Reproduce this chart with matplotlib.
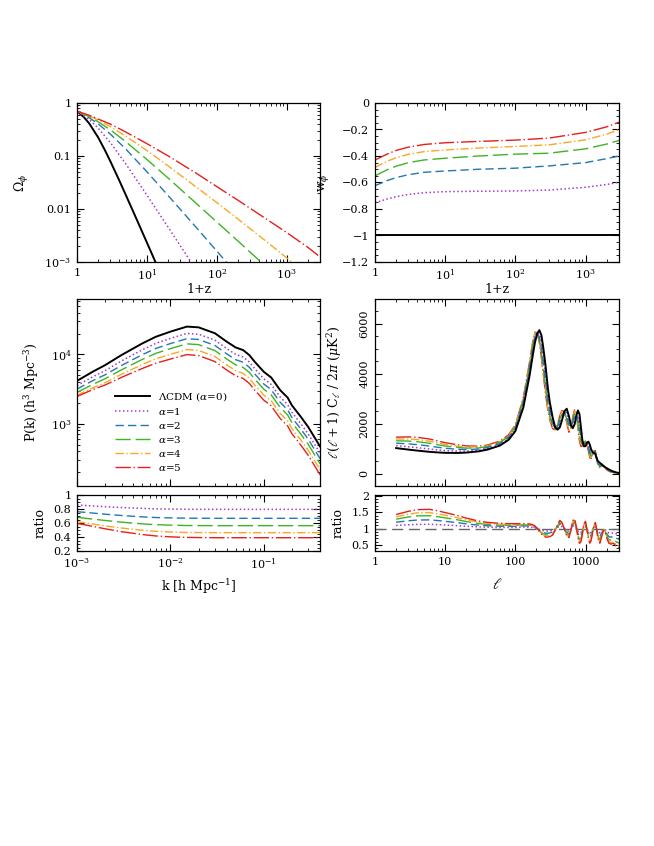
import matplotlib
matplotlib.use('Agg')
import matplotlib.pyplot as plt
from matplotlib.ticker import FixedLocator, MultipleLocator, LogLocator, NullFormatter

plt.rcParams['font.family'] = ['DejaVu Serif']
plt.rcParams['mathtext.fontset'] = 'dejavuserif'

labels = [r'$\Lambda$CDM ($\alpha$=0)', r'$\alpha$=1', r'$\alpha$=2', r'$\alpha$=3', r'$\alpha$=4', r'$\alpha$=5']

# ---- Omega_phi vs 1+z ----
zgrid = [1, 1.5, 2, 3, 5, 10, 20, 50, 100, 200, 500, 1000, 2000, 3000]
z_lcdm = [1, 1.25, 1.5, 2, 2.5, 3, 4, 5, 7, 10, 15]
om_lcdm = [0.70, 0.544, 0.409, 0.226, 0.130, 0.0795, 0.0352, 0.0183, 0.00676, 0.00233, 0.00069]
om_a1 = [0.70, 0.487, 0.338, 0.179, 0.0708, 0.0183, 0.0046, 0.00073, 0.00018]
om_a2 = [0.70, 0.526, 0.405, 0.259, 0.135, 0.0505, 0.0181, 0.0046, 0.00161, 0.00056]
om_a3 = [0.70, 0.550, 0.444, 0.312, 0.186, 0.086, 0.0386, 0.0130, 0.0057, 0.0025, 0.00083, 0.00035]
om_a4 = [0.70, 0.570, 0.478, 0.358, 0.236, 0.127, 0.0655, 0.0264, 0.0132, 0.0065, 0.0025, 0.0012, 0.00057, 0.00037]
om_a5 = [0.70, 0.585, 0.50, 0.40, 0.283, 0.171, 0.101, 0.048, 0.0265, 0.0147, 0.0066, 0.0036, 0.0019, 0.00125]

# ---- w_phi vs 1+z ----
wz = [1, 1.5, 2, 3, 5, 10, 30, 100, 300, 1000, 2000, 3000]
w_lcdm = [-1.0] * 12
w_a1 = [-0.753, -0.724, -0.707, -0.690, -0.677, -0.669, -0.666, -0.664, -0.657, -0.636, -0.615, -0.598]
w_a2 = [-0.624, -0.585, -0.563, -0.541, -0.523, -0.513, -0.500, -0.492, -0.475, -0.450, -0.420, -0.400]
w_a3 = [-0.550, -0.503, -0.477, -0.450, -0.430, -0.417, -0.400, -0.386, -0.379, -0.346, -0.310, -0.283]
w_a4 = [-0.485, -0.439, -0.413, -0.387, -0.367, -0.354, -0.340, -0.328, -0.316, -0.278, -0.235, -0.202]
w_a5 = [-0.430, -0.385, -0.358, -0.333, -0.313, -0.300, -0.290, -0.280, -0.265, -0.222, -0.180, -0.145]

# ---- P(k) ----
kgrid = [0.001, 0.0015, 0.002, 0.003, 0.005, 0.007, 0.01, 0.015, 0.02, 0.03, 0.04, 0.05,
         0.06, 0.07, 0.08, 0.1, 0.12, 0.15, 0.18, 0.2, 0.25, 0.3, 0.4]
pk_lcdm = [4150, 5700, 7000, 9800, 14400, 18000, 21300, 25200, 24600, 20200, 15300, 12600,
           11550, 9780, 7830, 5610, 4640, 3040, 2380, 1840, 1250, 890, 470]
pkr_a1 = [0.857, 0.843, 0.833, 0.821, 0.809, 0.802, 0.799, 0.796, 0.795, 0.795, 0.795, 0.795,
          0.795, 0.795, 0.795, 0.795, 0.795, 0.795, 0.795, 0.795, 0.795, 0.795, 0.795]
pkr_a2 = [0.762, 0.741, 0.726, 0.707, 0.688, 0.678, 0.673, 0.669, 0.668, 0.667, 0.667, 0.667,
          0.667, 0.667, 0.667, 0.667, 0.667, 0.667, 0.667, 0.667, 0.667, 0.667, 0.667]
pkr_a3 = [0.681, 0.655, 0.636, 0.612, 0.588, 0.576, 0.569, 0.564, 0.563, 0.562, 0.562, 0.562,
          0.562, 0.562, 0.562, 0.562, 0.562, 0.562, 0.562, 0.562, 0.562, 0.562, 0.562]
pkr_a4 = [0.619, 0.584, 0.559, 0.528, 0.497, 0.481, 0.471, 0.465, 0.464, 0.462, 0.462, 0.462,
          0.462, 0.462, 0.462, 0.462, 0.462, 0.462, 0.462, 0.462, 0.462, 0.462, 0.462]
pkr_a5 = [0.595, 0.550, 0.517, 0.476, 0.435, 0.415, 0.402, 0.394, 0.392, 0.390, 0.390, 0.390,
          0.390, 0.390, 0.390, 0.390, 0.390, 0.390, 0.390, 0.390, 0.390, 0.390, 0.390]

# ---- C_l ----
ell = [2, 3, 4, 6, 8, 10, 15, 20, 30, 40, 60, 80, 100, 130, 160, 175, 190, 205, 220, 235, 250,
       270, 290, 310, 340, 370, 400, 430, 460, 500, 540, 580, 620, 660, 700, 740, 780, 820, 860,
       900, 950, 1000, 1050, 1100, 1150, 1200, 1260, 1320, 1380, 1440, 1500, 1600, 1700, 1800,
       1900, 2000, 2150, 2300, 2500, 2700, 3000]
cl_lcdm = [1020, 960, 920, 870, 845, 830, 825, 840, 890, 960, 1120, 1350, 1700, 2650, 3950, 4650,
           5250, 5620, 5750, 5550, 5050, 4300, 3450, 2850, 2250, 1850, 1760, 1850, 2120, 2500, 2600,
           2300, 1930, 1820, 1980, 2330, 2530, 2380, 1850, 1350, 1090, 1100, 1230, 1280, 1160, 980,
           850, 830, 780, 620, 500, 430, 370, 310, 255, 215, 165, 120, 80, 50, 18]
clr_a1 = [1.095, 1.117, 1.128, 1.130, 1.119, 1.108, 1.088, 1.070, 1.051, 1.042, 1.035, 1.033, 1.033,
          1.045, 1.042, 1.036, 1.024, 1.002, 0.974, 0.951, 0.936, 0.921, 0.922, 0.925, 0.940, 0.985,
          1.036, 1.075, 1.057, 0.997, 0.934, 0.916, 0.985, 1.075, 1.090, 1.015, 0.916, 0.864, 0.877,
          0.946, 1.045, 1.066, 0.985, 0.910, 0.865, 0.886, 0.964, 1.030, 1.054, 0.994, 0.910, 0.865,
          0.925, 0.985, 0.976, 0.916, 0.865, 0.856, 0.865, 0.841, 0.820]
clr_a2 = [1.194, 1.239, 1.261, 1.266, 1.243, 1.221, 1.180, 1.144, 1.104, 1.086, 1.072, 1.068, 1.068,
          1.083, 1.077, 1.066, 1.044, 1.003, 0.952, 0.910, 0.883, 0.854, 0.857, 0.863, 0.890, 0.973,
          1.066, 1.138, 1.105, 0.995, 0.879, 0.846, 0.973, 1.138, 1.165, 1.028, 0.846, 0.750, 0.775,
          0.901, 1.083, 1.121, 0.973, 0.835, 0.753, 0.791, 0.934, 1.055, 1.099, 0.989, 0.835, 0.753,
          0.863, 0.973, 0.956, 0.846, 0.753, 0.736, 0.753, 0.709, 0.670]
clr_a3 = [1.288, 1.355, 1.389, 1.395, 1.362, 1.328, 1.268, 1.214, 1.154, 1.127, 1.107, 1.100, 1.100,
          1.113, 1.105, 1.090, 1.060, 1.004, 0.934, 0.878, 0.841, 0.801, 0.805, 0.813, 0.850, 0.963,
          1.090, 1.188, 1.143, 0.993, 0.835, 0.790, 0.963, 1.188, 1.225, 1.038, 0.790, 0.659, 0.693,
          0.865, 1.113, 1.165, 0.963, 0.775, 0.663, 0.715, 0.910, 1.075, 1.135, 0.985, 0.775, 0.663,
          0.813, 0.963, 0.940, 0.790, 0.663, 0.640, 0.663, 0.603, 0.550]
clr_a4 = [1.357, 1.440, 1.481, 1.490, 1.448, 1.407, 1.332, 1.266, 1.191, 1.158, 1.133, 1.125, 1.125,
          1.135, 1.126, 1.108, 1.072, 1.005, 0.921, 0.853, 0.809, 0.762, 0.766, 0.775, 0.820, 0.955,
          1.108, 1.225, 1.171, 0.991, 0.802, 0.748, 0.955, 1.225, 1.270, 1.045, 0.748, 0.590, 0.631,
          0.838, 1.135, 1.198, 0.955, 0.730, 0.595, 0.658, 0.892, 1.090, 1.162, 0.982, 0.730, 0.595,
          0.775, 0.955, 0.928, 0.748, 0.595, 0.568, 0.595, 0.523, 0.460]
clr_a5 = [1.43, 1.53, 1.58, 1.59, 1.54, 1.49, 1.40, 1.32, 1.23, 1.19, 1.16, 1.15, 1.15,
          1.15, 1.14, 1.12, 1.08, 1.005, 0.912, 0.837, 0.788, 0.735, 0.74, 0.75, 0.80, 0.95,
          1.12, 1.25, 1.19, 0.99, 0.78, 0.72, 0.95, 1.25, 1.30, 1.05, 0.72, 0.545, 0.59,
          0.82, 1.15, 1.22, 0.95, 0.70, 0.55, 0.62, 0.88, 1.10, 1.18, 0.98, 0.70, 0.55,
          0.75, 0.95, 0.92, 0.72, 0.55, 0.52, 0.55, 0.47, 0.40]

# ---- styles ----
styles = [
    dict(color='black', ls='-', lw=1.4),
    dict(color='#a33ad8', ls=(0, (1, 1.6)), lw=1.1),
    dict(color='#2378b0', ls=(0, (6, 3)), lw=1.0),
    dict(color='#3db523', ls=(0, (11, 3.5)), lw=1.0),
    dict(color='#f8a823', ls=(0, (6, 1.8, 1, 1.8)), lw=1.0),
    dict(color='#e41f1c', ls=(0, (11, 2, 1, 2)), lw=1.0),
]

fig = plt.figure(figsize=(6.54, 8.46), dpi=100)

W, H = 654.0, 846.0
def axes_px(x0, x1, y0, y1):
    return fig.add_axes([x0 / W, 1 - y1 / H, (x1 - x0) / W, (y1 - y0) / H])

def style(ax):
    ax.tick_params(which='both', direction='in', top=True, right=True, labelsize=8, pad=4)
    ax.tick_params(which='major', length=5, width=0.8)
    ax.tick_params(which='minor', length=2.5, width=0.6)
    for s in ax.spines.values():
        s.set_linewidth(0.9)

def logminor(ax, axis='x'):
    loc = LogLocator(base=10, subs=[2, 3, 4, 5, 6, 7, 8, 9], numticks=20)
    a = ax.xaxis if axis == 'x' else ax.yaxis
    a.set_minor_locator(loc)
    a.set_minor_formatter(NullFormatter())

ax1 = axes_px(77, 320, 103, 262)
ax2 = axes_px(375, 619, 103, 262)
ax3 = axes_px(77, 320, 299, 486)
ax4 = axes_px(375, 619, 299, 486)
ax5 = axes_px(77, 320, 495, 551)
ax6 = axes_px(375, 619, 495, 551)

LBL = 9

# Panel 1: Omega_phi
om_all = [om_lcdm, om_a1, om_a2, om_a3, om_a4, om_a5]
ax1.plot(z_lcdm, om_lcdm, **styles[0])
for i in range(1, 6):
    ax1.plot(zgrid[:len(om_all[i])], om_all[i], **styles[i])
ax1.set_xscale('log'); ax1.set_yscale('log')
ax1.set_xlim(1, 3000); ax1.set_ylim(1e-3, 1)
ax1.xaxis.set_major_locator(FixedLocator([1, 10, 100, 1000]))
ax1.set_xticklabels(['1', r'$10^1$', r'$10^2$', r'$10^3$'])
ax1.yaxis.set_major_locator(FixedLocator([1e-3, 1e-2, 1e-1, 1]))
ax1.set_yticklabels([r'$10^{-3}$', '0.01', '0.1', '1'])
logminor(ax1, 'x'); logminor(ax1, 'y')
style(ax1)
ax1.set_xlabel('1+z', fontsize=LBL)
ax1.set_ylabel(r'$\Omega_\phi$', fontsize=LBL)
ax1.xaxis.set_label_coords(0.5, -0.13)
ax1.yaxis.set_label_coords(-0.19, 0.5)

# Panel 2: w_phi
w_all = [w_lcdm, w_a1, w_a2, w_a3, w_a4, w_a5]
for i in range(6):
    ax2.plot(wz, w_all[i], **styles[i])
ax2.set_xscale('log')
ax2.set_xlim(1, 3000); ax2.set_ylim(-1.2, 0)
ax2.xaxis.set_major_locator(FixedLocator([1, 10, 100, 1000]))
ax2.set_xticklabels(['1', r'$10^1$', r'$10^2$', r'$10^3$'])
wt = [-1.2, -1.0, -0.8, -0.6, -0.4, -0.2, 0.0]
ax2.yaxis.set_major_locator(FixedLocator(wt))
ax2.set_yticklabels(['\u22121.2', '\u22121', '\u22120.8', '\u22120.6', '\u22120.4', '\u22120.2', '0'])
ax2.yaxis.set_minor_locator(MultipleLocator(0.05))
logminor(ax2, 'x')
style(ax2)
ax2.set_xlabel('1+z', fontsize=LBL)
ax2.set_ylabel(r'w$_\phi$', fontsize=LBL)
ax2.xaxis.set_label_coords(0.5, -0.13)
ax2.yaxis.set_label_coords(-0.18, 0.5)

# Panel 3: P(k)
pkr_all = [[1.0] * len(kgrid), pkr_a1, pkr_a2, pkr_a3, pkr_a4, pkr_a5]
for i in range(6):
    vals = [r * p for r, p in zip(pkr_all[i], pk_lcdm)]
    ax3.plot(kgrid, vals, label=labels[i], **styles[i])
ax3.set_xscale('log'); ax3.set_yscale('log')
ax3.set_xlim(1e-3, 0.4); ax3.set_ylim(10 ** 2.1, 10 ** 4.8)
ax3.xaxis.set_major_locator(FixedLocator([1e-3, 1e-2, 1e-1]))
ax3.set_xticklabels([])
logminor(ax3, 'x'); logminor(ax3, 'y')
ax3.yaxis.set_major_locator(FixedLocator([1e3, 1e4]))
ax3.set_yticklabels([r'$10^3$', r'$10^4$'])
style(ax3)
ax3.set_ylabel(r'P(k) (h$^3$ Mpc$^{-3}$)', fontsize=LBL)
ax3.yaxis.set_label_coords(-0.15, 0.5)
ax3.legend(loc='upper left', bbox_to_anchor=(0.14, 0.535), frameon=False, fontsize=7.5,
           handlelength=3.3, handletextpad=0.8, labelspacing=0.28, borderaxespad=0)

# Panel 4: C_l
clr_all = [[1.0] * len(ell), clr_a1, clr_a2, clr_a3, clr_a4, clr_a5]
for i in [5, 4, 3, 2, 1, 0]:
    vals = [r * c for r, c in zip(clr_all[i], cl_lcdm)]
    ax4.plot(ell, vals, **styles[i])
ax4.set_xscale('log')
ax4.set_xlim(1, 3000); ax4.set_ylim(-500, 7000)
ax4.xaxis.set_major_locator(FixedLocator([1, 10, 100, 1000]))
ax4.set_xticklabels([])
logminor(ax4, 'x')
ax4.yaxis.set_major_locator(FixedLocator([0, 2000, 4000, 6000]))
ax4.yaxis.set_minor_locator(MultipleLocator(500))
style(ax4)
for t in ax4.get_yticklabels():
    t.set_rotation(90); t.set_va('center')
ax4.set_ylabel(r'$\ell(\ell+1)$ C$_\ell$ / 2$\pi$ ($\mu$K$^2$)', fontsize=LBL)
ax4.yaxis.set_label_coords(-0.125, 0.5)

# Panel 5: P(k) ratio
for i in range(1, 6):
    ax5.plot(kgrid, pkr_all[i], **styles[i])
ax5.set_xscale('log')
ax5.set_xlim(1e-3, 0.4); ax5.set_ylim(0.2, 1.0)
ax5.xaxis.set_major_locator(FixedLocator([1e-3, 1e-2, 1e-1]))
ax5.set_xticklabels([r'$10^{-3}$', r'$10^{-2}$', r'$10^{-1}$'])
logminor(ax5, 'x')
ax5.yaxis.set_major_locator(FixedLocator([0.2, 0.4, 0.6, 0.8, 1.0]))
ax5.set_yticklabels(['0.2', '0.4', '0.6', '0.8', '1'])
ax5.yaxis.set_minor_locator(MultipleLocator(0.05))
style(ax5)
ax5.set_xlabel(r'k [h Mpc$^{-1}$]', fontsize=LBL)
ax5.set_ylabel('ratio', fontsize=LBL)
ax5.xaxis.set_label_coords(0.5, -0.47)
ax5.yaxis.set_label_coords(-0.125, 0.5)

# Panel 6: C_l ratio
ax6.axhline(1.0, color='#666666', ls=(0, (8, 4)), lw=1.0)
for i in range(1, 6):
    ax6.plot(ell, clr_all[i], **styles[i])
ax6.set_xscale('log')
ax6.set_xlim(1, 3000); ax6.set_ylim(0.31, 2.03)
ax6.xaxis.set_major_locator(FixedLocator([1, 10, 100, 1000]))
ax6.set_xticklabels(['1', '10', '100', '1000'])
logminor(ax6, 'x')
ax6.yaxis.set_major_locator(FixedLocator([0.5, 1.0, 1.5, 2.0]))
ax6.set_yticklabels(['0.5', '1', '1.5', '2'])
ax6.yaxis.set_minor_locator(MultipleLocator(0.1))
style(ax6)
ax6.set_xlabel(r'$\ell$', fontsize=10.5)
ax6.set_ylabel('ratio', fontsize=LBL)
ax6.xaxis.set_label_coords(0.5, -0.47)
ax6.yaxis.set_label_coords(-0.125, 0.5)

fig.savefig('out.png', dpi=100)
